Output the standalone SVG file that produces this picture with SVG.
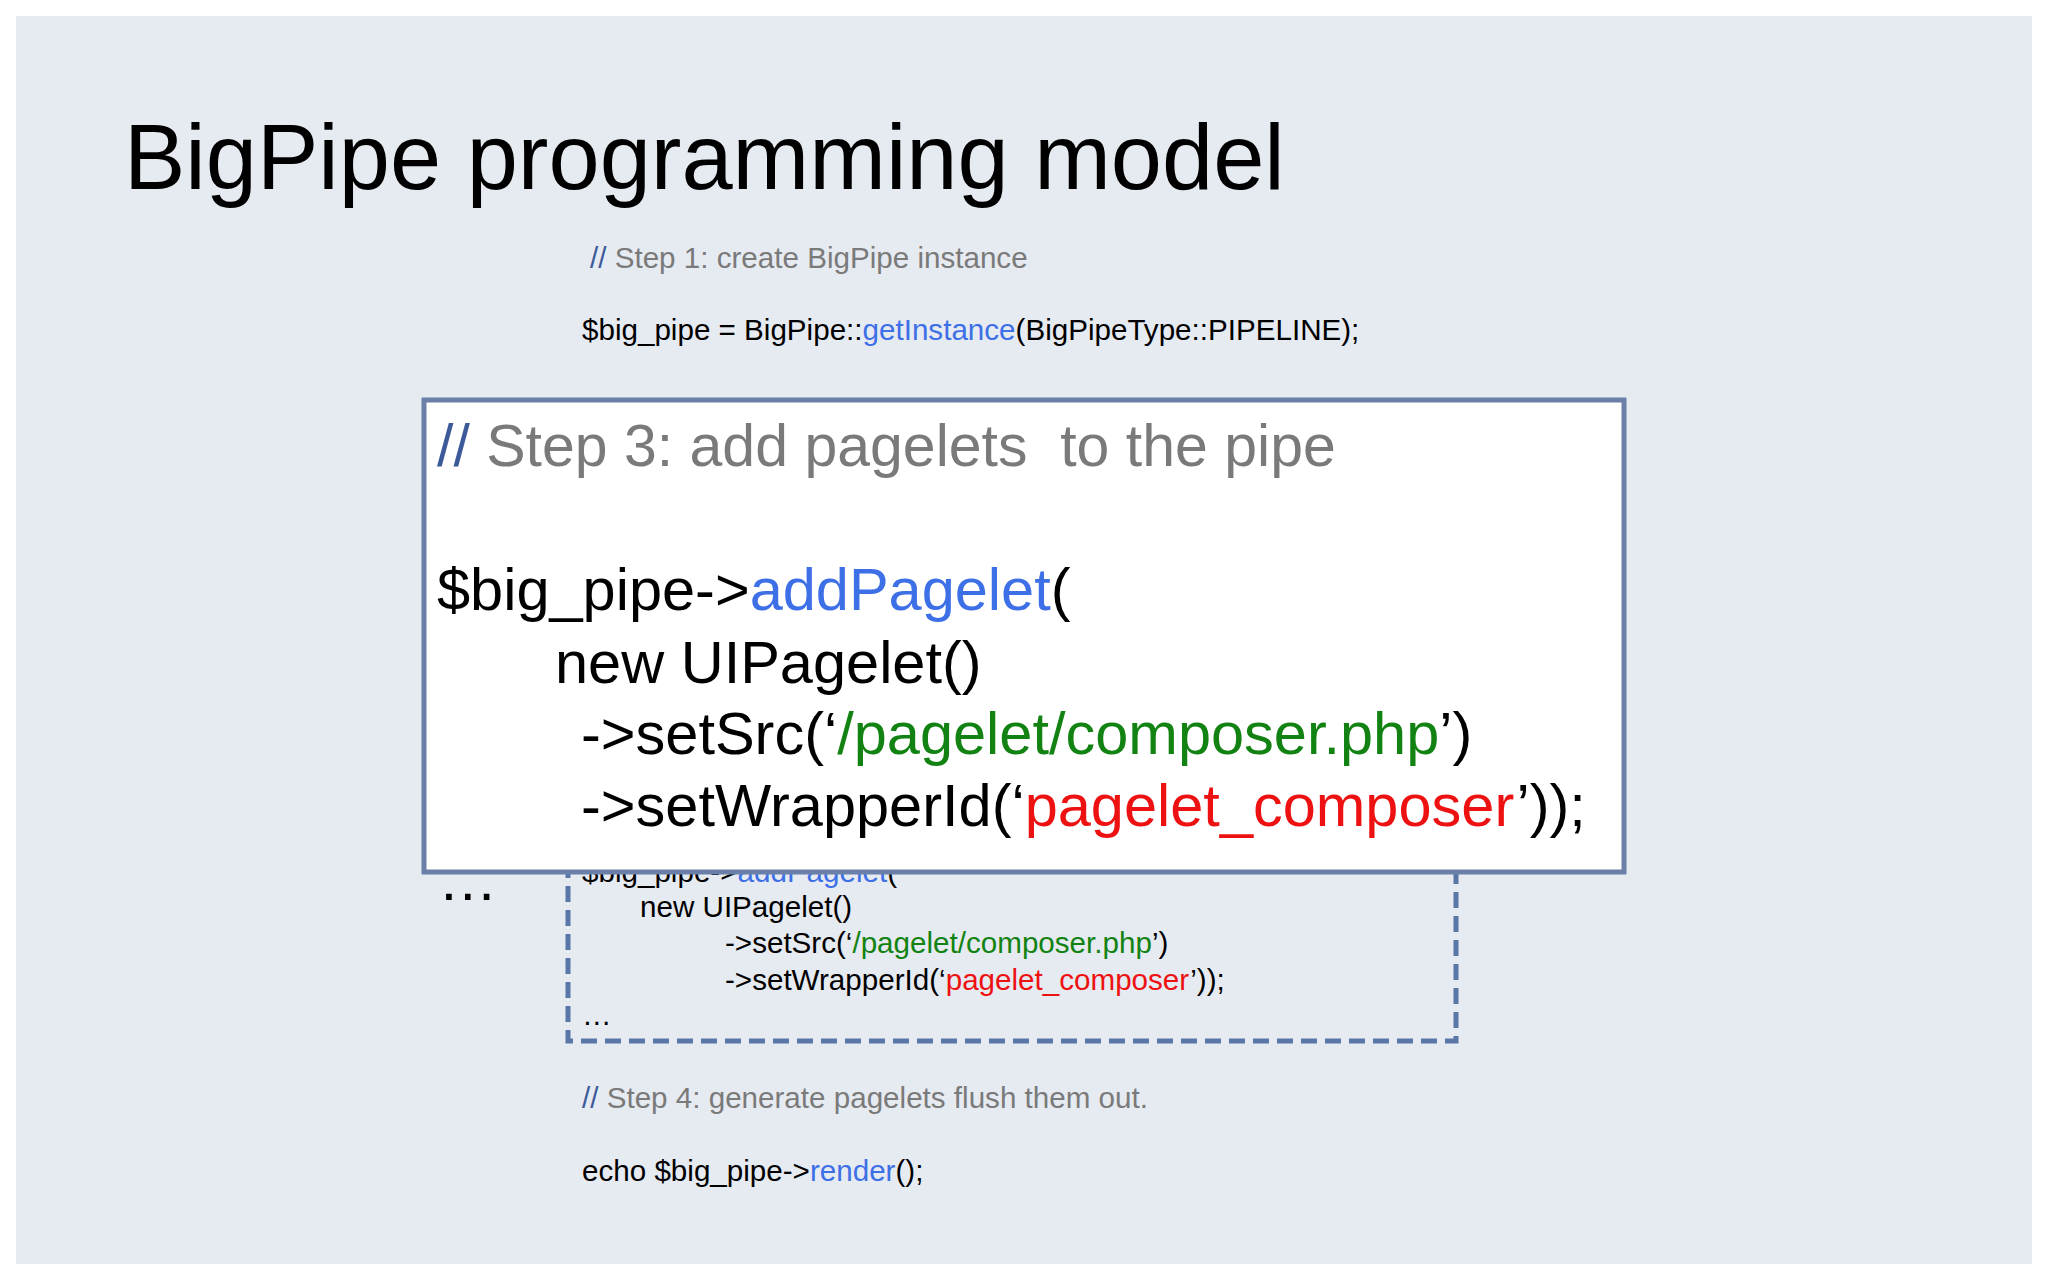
<svg xmlns="http://www.w3.org/2000/svg" width="2048" height="1280" viewBox="0 0 2048 1280">
<style>
text{font-family:"Liberation Sans",Arial,sans-serif}
.s{font-size:29.6px;fill:#000}
.c{fill:#7a7a7a}
.b{fill:#3d6fe6}
.g{fill:#128312}
.r{fill:#ee1111}
.L{font-size:59.5px;fill:#000}
</style>
<rect width="2048" height="1280" fill="#fff"/>
<rect x="16" y="16" width="2016" height="1248" fill="#e6eaf1"/>
<text x="124" y="189" font-size="92" fill="#000">BigPipe programming model</text>
<g id="step1">
<text x="590" y="268" class="s c"><tspan fill="#3c5a9a">//</tspan> Step 1: create BigPipe instance</text>
<text x="582" y="340" class="s">$big_pipe = BigPipe::<tspan class="b">getInstance</tspan>(BigPipeType::PIPELINE);</text>
</g>
<g id="step2">
<rect x="568" y="820" width="888" height="221" fill="none" stroke="#5a76a6" stroke-width="5" stroke-dasharray="16,8"/>
<text x="582" y="882" class="s">$big_pipe-&gt;<tspan class="b">addPagelet</tspan>(</text>
<text x="640" y="917" class="s">new UIPagelet()</text>
<text x="725" y="953" class="s">-&gt;setSrc(‘<tspan class="g">/pagelet/composer.php</tspan>’)</text>
<text x="725" y="990" class="s">-&gt;setWrapperId(‘<tspan class="r">pagelet_composer</tspan>’));</text>
<text x="582" y="1025" class="s">…</text>
<text x="438" y="900" class="L">…</text>
</g>
<g id="step3">
<rect x="424" y="400" width="1200" height="472" fill="#fff" stroke="#6a80a8" stroke-width="5"/>
<text x="437" y="466" font-size="59" class="c" xml:space="preserve"><tspan fill="#3c5a9a">//</tspan> Step 3: add pagelets  to the pipe</text>
<text x="437" y="610" class="L">$big_pipe-&gt;<tspan class="b">addPagelet</tspan>(</text>
<text x="555" y="683" class="L">new UIPagelet()</text>
<text x="581" y="754" class="L">-&gt;setSrc(‘<tspan class="g">/pagelet/composer.php</tspan>’)</text>
<text x="581" y="826" class="L">-&gt;setWrapperId(‘<tspan class="r">pagelet_composer</tspan>’));</text>
</g>
<g id="step4">
<text x="582" y="1108" class="s c"><tspan fill="#3c5a9a">//</tspan> Step 4: generate pagelets flush them out.</text>
<text x="582" y="1181" class="s">echo $big_pipe-&gt;<tspan class="b">render</tspan>();</text>
</g>
</svg>
